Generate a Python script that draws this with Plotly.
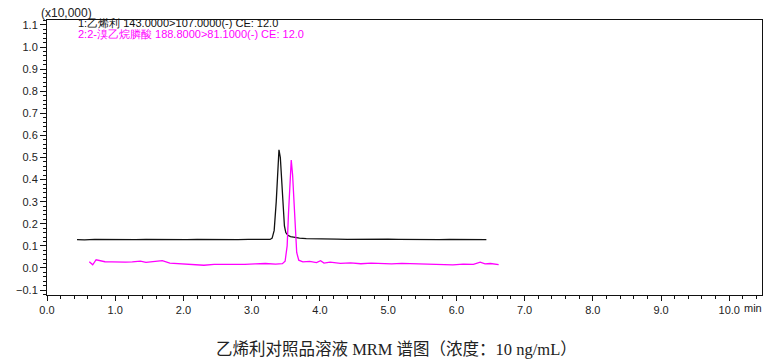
import plotly.graph_objects as go

# --- data ---
black_t = [0.44, 0.55, 0.7, 0.85, 1.0, 1.15, 1.3, 1.45, 1.6, 1.75, 1.9, 2.05, 2.2, 2.35, 2.5,
           2.65, 2.8, 2.95, 3.1, 3.2, 3.27, 3.30, 3.33, 3.36, 3.38, 3.40, 3.42, 3.44, 3.46, 3.48,
           3.50, 3.53, 3.57, 3.62, 3.7, 3.8, 3.95, 4.1, 4.25, 4.4, 4.55, 4.7, 4.85, 5.0, 5.15,
           5.3, 5.45, 5.6, 5.75, 5.9, 6.05, 6.2, 6.35, 6.44]
black_y = [0.128, 0.127, 0.129, 0.128, 0.128, 0.127, 0.128, 0.129, 0.128, 0.127, 0.128, 0.128,
           0.129, 0.128, 0.127, 0.128, 0.128, 0.129, 0.128, 0.128, 0.129, 0.135, 0.17, 0.30, 0.45,
           0.535, 0.50, 0.38, 0.26, 0.19, 0.16, 0.148, 0.142, 0.138, 0.135, 0.133, 0.131, 0.131,
           0.130, 0.129, 0.130, 0.129, 0.129, 0.130, 0.129, 0.128, 0.129, 0.128, 0.128, 0.129,
           0.128, 0.128, 0.129, 0.128]

mag_t = [0.62, 0.67, 0.72, 0.78, 0.85, 0.95, 1.05, 1.15, 1.25, 1.37, 1.45, 1.55, 1.69, 1.8, 1.95,
         2.1, 2.3, 2.45, 2.6, 2.75, 2.9, 3.05, 3.2, 3.35, 3.45, 3.49, 3.52, 3.54, 3.56, 3.58,
         3.60, 3.62, 3.64, 3.66, 3.69, 3.75, 3.85, 3.95, 4.01, 4.06, 4.15, 4.3, 4.45, 4.6, 4.75,
         4.9, 5.05, 5.2, 5.35, 5.5, 5.65, 5.8, 5.95, 6.1, 6.25, 6.35, 6.42, 6.5, 6.62]
mag_y = [0.028, 0.014, 0.037, 0.032, 0.028, 0.027, 0.025, 0.026, 0.027, 0.031, 0.025, 0.027,
         0.033, 0.022, 0.020, 0.018, 0.012, 0.016, 0.015, 0.017, 0.016, 0.018, 0.020, 0.017,
         0.019, 0.03, 0.10, 0.25, 0.40, 0.488, 0.42, 0.28, 0.15, 0.07, 0.035, 0.027, 0.030,
         0.024, 0.033, 0.022, 0.026, 0.021, 0.023, 0.019, 0.022, 0.020, 0.018, 0.021, 0.019,
         0.017, 0.015, 0.016, 0.014, 0.017, 0.016, 0.026, 0.018, 0.020, 0.015]

series_names = ["1:乙烯利 143.0000>107.0000(-) CE: 12.0",
                "2:2-溴乙烷膦酸 188.8000>81.1000(-) CE: 12.0"]
x_ticks = [0, 1, 2, 3, 4, 5, 6, 7, 8, 9, 10]
x_ticktext = ["0.0", "1.0", "2.0", "3.0", "4.0", "5.0", "6.0", "7.0", "8.0", "9.0", "10.0"]
y_ticks = [-0.1, 0.0, 0.1, 0.2, 0.3, 0.4, 0.5, 0.6, 0.7, 0.8, 0.9, 1.0, 1.1]
caption = "乙烯利对照品溶液 MRM 谱图（浓度：10 ng/mL）"

fig = go.Figure()
fig.add_trace(go.Scatter(x=black_t, y=black_y, mode="lines",
                         line=dict(color="#111111", width=1.3), name=series_names[0]))
fig.add_trace(go.Scatter(x=mag_t, y=mag_y, mode="lines",
                         line=dict(color="#ff00ff", width=1.3), name=series_names[1]))

tickfont = dict(family="Liberation Sans, Arial, sans-serif", size=11, color="#222222")

fig.update_xaxes(range=[0, 10.48], tickvals=x_ticks, ticktext=x_ticktext,
                 showgrid=False, zeroline=False, showline=True, linecolor="#111111",
                 linewidth=1, mirror=True, ticks="outside", ticklen=5, tickcolor="#111111",
                 tickfont=tickfont,
                 minor=dict(dtick=0.2, tick0=0, ticks="outside", ticklen=3,
                            tickcolor="#111111", showgrid=False))
fig.update_yaxes(range=[-0.1226, 1.1226], tickvals=y_ticks, tickformat=".1f",
                 showgrid=False, zeroline=False, showline=True, linecolor="#111111",
                 linewidth=1, mirror=True, ticks="outside", ticklen=6, tickcolor="#111111",
                 tickfont=tickfont,
                 minor=dict(dtick=0.02, tick0=0, ticks="outside", ticklen=3,
                            tickcolor="#111111", showgrid=False))

fig.update_layout(
    width=780, height=362,
    margin=dict(l=47, r=18, t=20, b=67),
    plot_bgcolor="white", paper_bgcolor="white",
    showlegend=False,
    font=dict(family="Liberation Sans, Arial, sans-serif"),
)

# annotations in pixel-derived paper coordinates
W, H = 780, 362
L, R, T, B = 47, 18, 20, 67
pw, ph = W - L - R, H - T - B

def px(xp):
    return (xp - L) / pw

def py(yp):
    return (H - B - yp) / ph

fig.add_annotation(text="(x10,000)", x=px(40), y=py(13), xref="paper", yref="paper",
                   xanchor="left", yanchor="middle", showarrow=False, borderpad=0,
                   font=dict(size=12, color="#222222"))
fig.add_annotation(text=series_names[0], x=px(77), y=py(23.5), xref="paper", yref="paper",
                   xanchor="left", yanchor="middle", showarrow=False, borderpad=0,
                   font=dict(size=11, color="#111111"))
fig.add_annotation(text=series_names[1], x=px(77), y=py(34), xref="paper", yref="paper",
                   xanchor="left", yanchor="middle", showarrow=False, borderpad=0,
                   font=dict(size=11, color="#ff00ff"))
fig.add_annotation(text="min", x=px(743), y=py(308), xref="paper", yref="paper",
                   xanchor="left", yanchor="middle", showarrow=False, borderpad=0,
                   font=dict(size=11, color="#222222"))
fig.add_annotation(text=caption, x=px(396), y=py(349), xref="paper", yref="paper",
                   xanchor="center", yanchor="middle", showarrow=False,
                   font=dict(family="Liberation Serif, Noto Sans CJK SC, serif", size=16.5,
                             color="#222222"))

fig.write_html("out.html")
